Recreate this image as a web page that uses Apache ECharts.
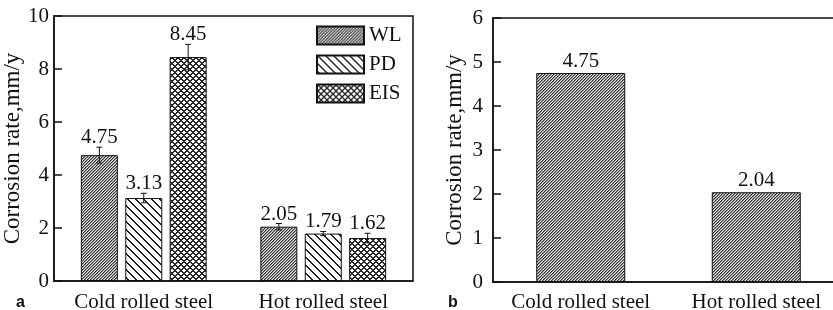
<!DOCTYPE html>
<html>
<head>
<meta charset="utf-8" />
<title></title>
<script src="https://cdn.jsdelivr.net/npm/echarts@6/dist/echarts.min.js"></script>
<style>
  * { padding: 0; margin: 0; }
  #main { width: 833px; height: 310px; background: #fff; }
</style>
</head>
<body>
<div id="main"></div>
<script type="text/javascript">
// panel a data
var categories = ['Cold rolled steel', 'Hot rolled steel'];
var seriesNames = ['WL', 'PD', 'EIS'];
var wlData = [4.75, 2.05];
var pdData = [3.13, 1.79];
var eisData = [8.45, 1.62];
// error bar half-lengths, same order
var wlErr = [0.30, 0.12];
var pdErr = [0.18, 0.08];
var eisErr = [0.48, 0.18];
var yTicksA = {min: 0, max: 10, interval: 2};

// panel b data
var wlOnly = [4.75, 2.04];
var yTicksB = {min: 0, max: 6, interval: 1};

var SERIF = '"Liberation Serif", "Times New Roman", serif';
var BAR_W = 37;
var BAR_GAP = 0.2;

// pixel patterns
function makePattern(size, fn) {
  var c = document.createElement('canvas');
  c.width = size; c.height = size;
  var ctx = c.getContext('2d');
  var img = ctx.createImageData(size, size);
  for (var y = 0; y < size; y++) {
    for (var x = 0; x < size; x++) {
      var v = fn(x, y);
      var k = (y * size + x) * 4;
      img.data[k] = v; img.data[k + 1] = v; img.data[k + 2] = v; img.data[k + 3] = 255;
    }
  }
  ctx.putImageData(img, 0, 0);
  return {image: c, repeat: 'repeat'};
}
var patWL = makePattern(3, function (x, y) {
  var m = (x + y) % 3;
  return m === 0 ? 0x38 : (m === 1 ? 0x90 : 0xdc);
});
var patPD = makePattern(8, function (x, y) {
  return ((x - y + 80) % 8) < 2 ? 0x22 : 0xff;
});
var patEIS = makePattern(6, function (x, y) {
  var a = (x + y) % 6 < 2, b = (x - y + 60) % 6 < 2;
  return (a || b) ? 0x2a : 0xff;
});

// error bar rows: [categoryIndex, seriesIndex, value, err]
var errRows = [];
[[wlData, wlErr], [pdData, pdErr], [eisData, eisErr]].forEach(function (p, si) {
  for (var i = 0; i < categories.length; i++) errRows.push([i, si, p[0][i], p[1][i]]);
});

var axisLineStyle = {color: '#111', width: 1.5};

var myChart = echarts.init(document.getElementById('main'));
var option = {
  backgroundColor: '#fff',
  animation: false,
  textStyle: {fontFamily: SERIF},
  // grid border gives the top / right frame lines
  grid: [
    {left: 54, top: 16, width: 359, bottom: 29, outerBoundsMode: 'none', containLabel: false,
      show: true, borderColor: '#111', borderWidth: 1.5, backgroundColor: 'transparent'},
    {left: 493, top: 18, width: 351, bottom: 28, outerBoundsMode: 'none', containLabel: false,
      show: true, borderColor: '#111', borderWidth: 1.5, backgroundColor: 'transparent'}
  ],
  legend: {
    data: seriesNames,
    orient: 'vertical',
    left: 311, top: 20,
    itemWidth: 47, itemHeight: 18, itemGap: 8,
    icon: 'rect',
    textStyle: {fontFamily: SERIF, fontSize: 21, color: '#111'}
  },
  graphic: [
    {type: 'text', left: 16, top: 295, style: {text: 'a', font: 'bold 16px "Liberation Sans", Arial, sans-serif', fill: '#111'}},
    {type: 'text', left: 448, top: 295, style: {text: 'b', font: 'bold 16px "Liberation Sans", Arial, sans-serif', fill: '#111'}}
  ],
  xAxis: [
    {type: 'category', gridIndex: 0, data: categories,
      axisLine: {lineStyle: axisLineStyle}, axisTick: {show: false},
      axisLabel: {interval: 0, fontFamily: SERIF, fontSize: 21, color: '#111', margin: 11}},
    {type: 'category', gridIndex: 1, data: categories,
      axisLine: {lineStyle: axisLineStyle}, axisTick: {show: false},
      axisLabel: {interval: 0, fontFamily: SERIF, fontSize: 21, color: '#111', margin: 10}}
  ],
  yAxis: [
    {type: 'value', gridIndex: 0, min: yTicksA.min, max: yTicksA.max, interval: yTicksA.interval,
      name: 'Corrosion rate,mm/y', nameLocation: 'middle', nameGap: 29,
      nameTextStyle: {fontFamily: SERIF, fontSize: 23, color: '#111'},
      axisLine: {show: true, lineStyle: axisLineStyle},
      axisTick: {show: true, inside: true, length: 8, lineStyle: {color: '#111', width: 1.5}},
      axisLabel: {fontFamily: SERIF, fontSize: 21, color: '#111', margin: 5},
      splitLine: {show: false}},
    {type: 'value', gridIndex: 1, min: yTicksB.min, max: yTicksB.max, interval: yTicksB.interval,
      name: 'Corrosion rate,mm/y', nameLocation: 'middle', nameGap: 27,
      nameTextStyle: {fontFamily: SERIF, fontSize: 23, color: '#111'},
      axisLine: {show: true, lineStyle: axisLineStyle},
      axisTick: {show: true, inside: true, length: 8, lineStyle: {color: '#111', width: 1.5}},
      axisLabel: {fontFamily: SERIF, fontSize: 21, color: '#111', margin: 10},
      splitLine: {show: false}}
  ],
  series: [
    {name: 'WL', type: 'bar', xAxisIndex: 0, yAxisIndex: 0, data: wlData,
      barWidth: BAR_W, barGap: (BAR_GAP * 100) + '%',
      itemStyle: {color: patWL, borderColor: '#111', borderWidth: 1}},
    {name: 'PD', type: 'bar', xAxisIndex: 0, yAxisIndex: 0, data: pdData,
      barWidth: BAR_W, barGap: (BAR_GAP * 100) + '%',
      itemStyle: {color: patPD, borderColor: '#111', borderWidth: 1}},
    {name: 'EIS', type: 'bar', xAxisIndex: 0, yAxisIndex: 0, data: eisData,
      barWidth: BAR_W, barGap: (BAR_GAP * 100) + '%',
      itemStyle: {color: patEIS, borderColor: '#111', borderWidth: 1}},
    {name: 'err', type: 'custom', xAxisIndex: 0, yAxisIndex: 0, data: errRows,
      encode: {x: 0, y: 2}, z: 5, clip: false,
      renderItem: function (params, api) {
        var si = api.value(1), v = api.value(2), e = api.value(3);
        var dx = (si - 1) * BAR_W * (1 + BAR_GAP);
        var top = api.coord([api.value(0), v + e]);
        var bot = api.coord([api.value(0), v - e]);
        var x = top[0] + dx;
        return {type: 'group', children: [
          {type: 'line', shape: {x1: x, y1: top[1], x2: x, y2: bot[1]}, style: {stroke: '#111', lineWidth: 1}},
          {type: 'line', shape: {x1: x - 3, y1: top[1], x2: x + 3, y2: top[1]}, style: {stroke: '#111', lineWidth: 1}},
          {type: 'line', shape: {x1: x - 3, y1: bot[1], x2: x + 3, y2: bot[1]}, style: {stroke: '#111', lineWidth: 1}},
          {type: 'text', style: {text: v.toFixed(2), x: x, y: top[1] + 1, align: 'center', verticalAlign: 'bottom',
            font: '21px ' + SERIF, fill: '#111'}}
        ]};
      }},
    {name: 'WL only', type: 'bar', xAxisIndex: 1, yAxisIndex: 1, data: wlOnly,
      barWidth: 89,
      itemStyle: {color: patWL, borderColor: '#111', borderWidth: 1},
      label: {show: true, position: 'top', distance: 1, fontFamily: SERIF, fontSize: 21, color: '#111',
        formatter: function (p) { return p.value.toFixed(2); }}}
  ]
};
myChart.setOption(option);
</script>
</body>
</html>
